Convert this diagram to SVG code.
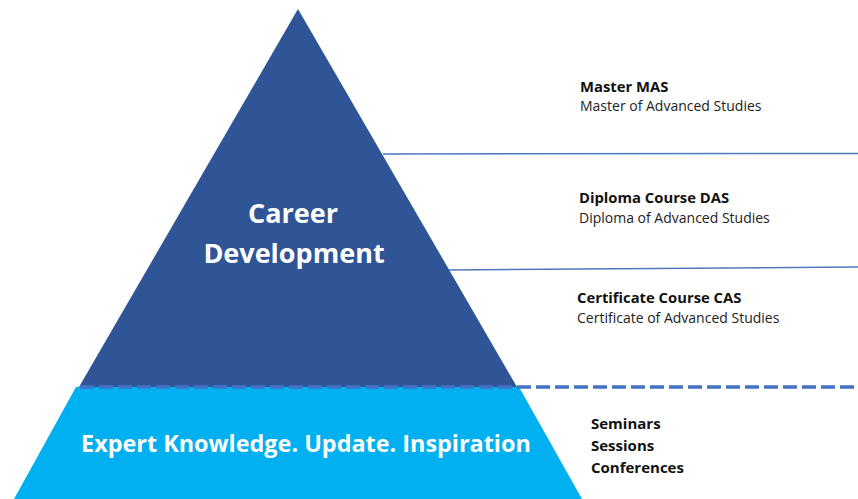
<svg xmlns="http://www.w3.org/2000/svg" width="858" height="499" viewBox="0 0 858 499">
<style>
.t{font-family:"Open Sans","Noto Sans","Liberation Sans",sans-serif}
.h{font-weight:bold;font-size:14.8px;fill:#111}
.s{font-size:14px;fill:#222}
.e{font-weight:bold;font-size:15px;fill:#111}
.w{fill:#fff;font-weight:bold}
.ln{stroke:#4F78B8;stroke-width:1.5;fill:none}
</style>
<rect width="858" height="499" fill="#fff"/>
<g id="base">
<polygon points="76,387 519,387 582,499 14,499" fill="#00B0F0"/>
<text class="t w" x="306" y="452" font-size="23.4" text-anchor="middle">Expert Knowledge. Update. Inspiration</text>
</g>
<g id="pyramid">
<polygon points="298,9 517,387 79,387" fill="#2F5597"/>
<text class="t w" x="293" y="223" font-size="27" text-anchor="middle">Career</text>
<text class="t w" x="294" y="263" font-size="27" text-anchor="middle">Development</text>
</g>
<g id="connectors">
<line class="ln" x1="383" y1="154" x2="858" y2="153.5"/>
<line class="ln" x1="449" y1="270" x2="858" y2="267"/>
<line x1="80" y1="387" x2="858" y2="387" stroke="#4472C4" stroke-width="3.5" stroke-dasharray="14,5"/>
</g>
<g id="mas">
<text class="t h" x="580" y="92">Master MAS</text>
<text class="t s" x="580" y="111">Master of Advanced Studies</text>
</g>
<g id="das">
<text class="t h" x="579" y="203">Diploma Course DAS</text>
<text class="t s" x="579" y="223">Diploma of Advanced Studies</text>
</g>
<g id="cas">
<text class="t h" x="577" y="303">Certificate Course CAS</text>
<text class="t s" x="577" y="323">Certificate of Advanced Studies</text>
</g>
<g id="events">
<text class="t e" x="591" y="429">Seminars</text>
<text class="t e" x="591" y="451">Sessions</text>
<text class="t e" x="591" y="473">Conferences</text>
</g>
</svg>
